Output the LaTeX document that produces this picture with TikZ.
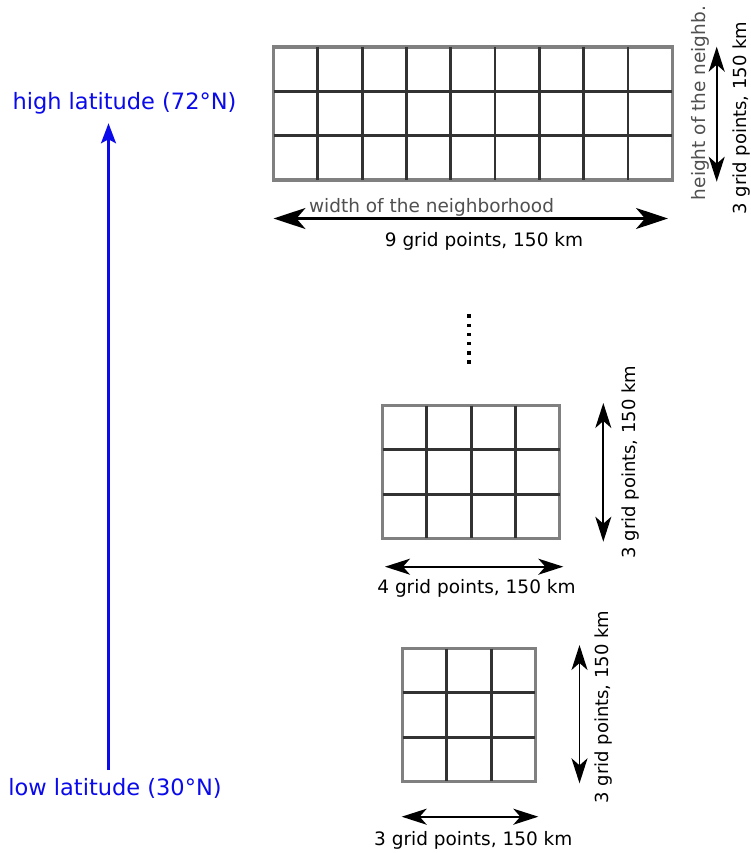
\documentclass[tikz,border=0pt]{standalone}
\usepackage{fontspec}
\setmainfont{DejaVu Sans}
\usetikzlibrary{arrows.meta}
\definecolor{outergray}{RGB}{128,128,128}
\definecolor{innergray}{RGB}{50,50,50}
\definecolor{labelgray}{RGB}{80,80,80}
\definecolor{latblue}{RGB}{10,10,235}
\begin{document}
\begin{tikzpicture}[x=1pt,y=-1pt,
  border/.style={draw=outergray,line width=3.2pt},
  cellline/.style={draw=innergray,line width=2.8pt},
  dimtip/.style={},
  dimarrow/.style={{Stealth[length=25pt,width=16pt,inset=7pt]}-{Stealth[length=25pt,width=16pt,inset=7pt]},line width=1.8pt,black},
  bigdimarrow/.style={{Stealth[length=32pt,width=21pt,inset=9pt]}-{Stealth[length=32pt,width=21pt,inset=9pt]},line width=2.2pt,black},
  latarrow/.style={-{Stealth[length=20pt,width=15pt,inset=4pt]},line width=2.2pt,draw=latblue},
  lbl/.style={font=\fontsize{18.5}{20}\selectfont,inner sep=0pt,outer sep=0pt},
  rlbl/.style={font=\fontsize{18}{20}\selectfont,inner sep=0pt,outer sep=0pt,rotate=90,anchor=base},
  bluelbl/.style={font=\fontsize{22.5}{24}\selectfont,inner sep=0pt,outer sep=0pt,text=latblue,anchor=base}
]
\fill[white] (0,0) rectangle (751,853);
\useasboundingbox (0,0) rectangle (751,853);

% ---------- top grid 9 x 3 ----------
\draw[border] (273.5,47) rectangle ++(398.7,132.9);
\foreach \i in {1,...,8} \draw[cellline] ({273.5+\i*44.3},47) -- ++(0,132.9);
\foreach \j in {1,2} \draw[cellline] (273.5,{47+\j*44.3}) -- ++(398.7,0);

% ---------- middle grid 4 x 3 ----------
\draw[border] (382.5,405.5) rectangle ++(177.2,132.9);
\foreach \i in {1,2,3} \draw[cellline] ({382.5+\i*44.3},405.5) -- ++(0,132.9);
\foreach \j in {1,2} \draw[cellline] (382.5,{405.5+\j*44.3}) -- ++(177.2,0);

% ---------- bottom grid 3 x 3 ----------
\draw[border] (402.5,648.5) rectangle ++(132.9,132.9);
\foreach \i in {1,2} \draw[cellline] ({402.5+\i*44.3},648.5) -- ++(0,132.9);
\foreach \j in {1,2} \draw[cellline] (402.5,{648.5+\j*44.3}) -- ++(132.9,0);

% ---------- dots ----------
\foreach \k in {0,...,5} \fill (467.3,{314.3+\k*9.2}) rectangle ++(3.4,3.4);

% ---------- top dimensions ----------
\coordinate (twL) at (273.5,218.5);
\coordinate (twR) at (668,218.5);
\draw[bigdimarrow] (twL) -- (twR);
\node[lbl,text=labelgray,anchor=base] (wlab) at (431.5,212.7) {width of the neighborhood};
\node[lbl,anchor=base] (w9) at (484,246) {9 grid points, 150 km};

\coordinate (thT) at (716.7,46.7);
\coordinate (thB) at (716.7,181.7);
\draw[dimarrow] (thT) -- (thB);
\node[rlbl,text=labelgray,font=\fontsize{18.5}{20}\selectfont] (hlab) at (705,103) {height of the neighb.};
\node[rlbl] (h3top) at (746,118) {3 grid points, 150 km};

% ---------- middle dimensions ----------
\coordinate (mhT) at (603.3,403);
\coordinate (mhB) at (603.3,541.7);
\draw[dimarrow] (mhT) -- (mhB);
\node[rlbl] (h3mid) at (635,462) {3 grid points, 150 km};
\coordinate (mwL) at (385,566.7);
\coordinate (mwR) at (563.3,566.7);
\draw[dimarrow] (mwL) -- (mwR);
\node[lbl,anchor=base] (w4) at (476.5,593.3) {4 grid points, 150 km};

% ---------- bottom dimensions ----------
\coordinate (bhT) at (579.5,645);
\coordinate (bhB) at (579.5,783.3);
\draw[dimarrow] (bhT) -- (bhB);
\node[rlbl] (h3bot) at (608.5,707) {3 grid points, 150 km};
\coordinate (bwL) at (401.7,816.7);
\coordinate (bwR) at (538.3,816.7);
\draw[dimarrow] (bwL) -- (bwR);
\node[lbl,anchor=base] (w3) at (473.3,845) {3 grid points, 150 km};

% ---------- latitude arrow ----------
\node[bluelbl] (high) at (124.5,109.3) {high latitude (72°N)};
\node[bluelbl] (low) at (115,795) {low latitude (30°N)};
\coordinate (latB) at (108.5,770);
\coordinate (latT) at (108.5,123.3);
\draw[latarrow] (latB) -- (latT);
\end{tikzpicture}
\end{document}
